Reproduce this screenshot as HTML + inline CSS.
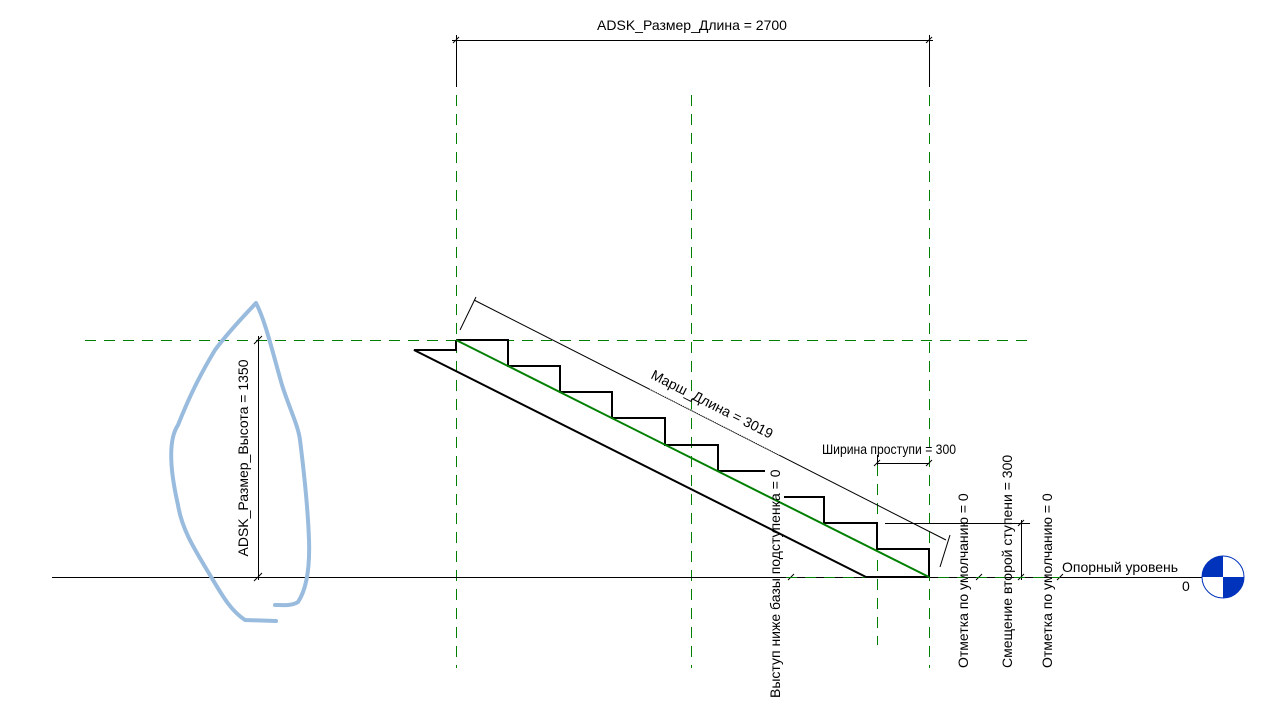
<!DOCTYPE html>
<html><head><meta charset="utf-8"><style>
body{margin:0;background:#fff;}
svg{display:block;font-family:"Liberation Sans",sans-serif;}
</style></head><body>
<svg width="1263" height="718" viewBox="0 0 1263 718">
<g stroke="#008000" stroke-width="1" stroke-dasharray="11,8" fill="none" shape-rendering="crispEdges">
<line x1="456.5" y1="95" x2="456.5" y2="668"/>
<line x1="929.5" y1="95" x2="929.5" y2="668"/>
<line x1="691.5" y1="95" x2="691.5" y2="668"/>
<line x1="877.5" y1="465" x2="877.5" y2="645"/>
<line x1="85" y1="340.5" x2="1030" y2="340.5"/>
</g>
<g stroke="#000" stroke-width="1" fill="none">
<line x1="52" y1="577.5" x2="1210" y2="577.5" shape-rendering="crispEdges"/>
<line x1="456.5" y1="35" x2="456.5" y2="87" shape-rendering="crispEdges"/>
<line x1="929.5" y1="35" x2="929.5" y2="87" shape-rendering="crispEdges"/>
<line x1="452" y1="40.5" x2="933" y2="40.5" shape-rendering="crispEdges"/>
<line x1="453" y1="43" x2="459" y2="37"/>
<line x1="926" y1="43" x2="932" y2="37"/>
<line x1="258.5" y1="336" x2="258.5" y2="580" shape-rendering="crispEdges"/>
<line x1="254" y1="344" x2="262" y2="336"/>
<line x1="254" y1="581" x2="262" y2="573"/>
<line x1="460" y1="330" x2="476" y2="297"/>
<line x1="474" y1="300" x2="946" y2="540"/>
<line x1="940" y1="567" x2="950" y2="535"/>
<line x1="877.5" y1="455" x2="877.5" y2="465" shape-rendering="crispEdges"/>
<line x1="877" y1="463.5" x2="929" y2="463.5" shape-rendering="crispEdges"/>
<line x1="874" y1="466" x2="880" y2="460"/>
<line x1="926" y1="466" x2="932" y2="460"/>
<line x1="885" y1="523.5" x2="1030" y2="523.5" shape-rendering="crispEdges"/>
<line x1="1021.5" y1="520" x2="1021.5" y2="580" shape-rendering="crispEdges"/>
<line x1="1018" y1="526" x2="1024" y2="520"/>
<line x1="1018" y1="580" x2="1024" y2="574"/>
<line x1="788" y1="580" x2="794" y2="574"/>
<line x1="976" y1="580" x2="982" y2="574"/>
<line x1="1057" y1="580" x2="1063" y2="574"/>
</g>
<line x1="786" y1="577.5" x2="1060" y2="577.5" stroke="#008000" stroke-width="1" stroke-dasharray="11,8" shape-rendering="crispEdges"/>
<line x1="650" y1="389" x2="780" y2="455" stroke="#fff" stroke-width="1" stroke-dasharray="1,1"/>
<g stroke="#000" stroke-width="2" fill="none">
<polyline points="456,340 508,340 508,366 560,366 560,392 612,392 612,418 665,418 665,445 718,445 718,471 765,471"/>
<polyline points="784,497 824,497 824,523 877,523 877,549 929,549 929,577"/>
<polyline points="456,340 456,350 414,350 866,577 929,577"/>
</g>
<line x1="456" y1="340" x2="929" y2="577" stroke="#008000" stroke-width="2"/>
<path d="M276,621 L245,620 C230,610 222,595 210,575 C195,550 182,530 178,505 C170,470 168,440 178,425 C190,395 200,375 215,350 C230,330 245,315 256,303 C265,320 272,350 282,385 C290,410 298,425 300,440 C305,480 308,510 309,540 C310,570 306,590 298,602 C292,606 283,605 275,605" stroke="#99bbdd" stroke-width="4" fill="none" stroke-linecap="round" stroke-linejoin="round"/>
<g font-size="14" fill="#000">
<text x="692" y="30" text-anchor="middle">ADSK_Размер_Длина = 2700</text>
<text transform="translate(248,458) rotate(-90)" text-anchor="middle">ADSK_Размер_Высота = 1350</text>
<text transform="translate(650,378) rotate(26.9)">Марш_Длина = 3019</text>
<text x="889" y="454" text-anchor="middle" textLength="134" lengthAdjust="spacingAndGlyphs">Ширина проступи = 300</text>
<text transform="translate(780,698) rotate(-90)">Выступ ниже базы подступенка = 0</text>
<text transform="translate(968,668) rotate(-90)">Отметка по умолчанию = 0</text>
<text transform="translate(1012,668) rotate(-90)">Смещение второй ступени = 300</text>
<text transform="translate(1052,668) rotate(-90)">Отметка по умолчанию = 0</text>
<text x="1062" y="572">Опорный уровень</text>
<text x="1182" y="591">0</text>
</g>
<g transform="translate(1223,577)">
<circle r="21" fill="#fff" stroke="#0033bb" stroke-width="1"/>
<path d="M0,0 L-21,0 A21,21 0 0 1 0,-21 Z" fill="#0033bb"/>
<path d="M0,0 L21,0 A21,21 0 0 1 0,21 Z" fill="#0033bb"/>
</g>
</svg>
</body></html>
